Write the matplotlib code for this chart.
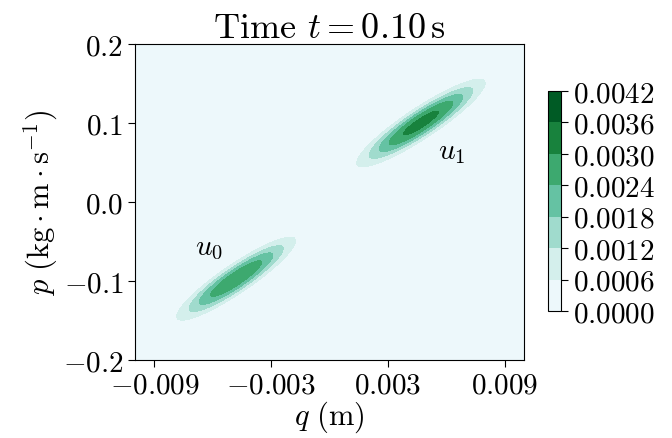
#!/usr/bin/env python3
import matplotlib

matplotlib.use("Agg")
import matplotlib.pyplot as plt
import numpy as np
from matplotlib.ticker import FuncFormatter

plt.rcParams["font.family"] = "serif"
plt.rcParams["font.serif"] = ["cmr10", "DejaVu Serif"]
plt.rcParams["mathtext.fontset"] = "cm"
plt.rcParams["axes.formatter.use_mathtext"] = True

# phase-space blobs: centre, spread, correlation, peak density
BLOB_NAMES = ["u_0", "u_1"]
BLOB_Q = [-0.0048, 0.0047]
BLOB_P = [-0.097, 0.100]
BLOB_SIG_Q = [0.0018, 0.0019]
BLOB_SIG_P = [0.031, 0.032]
BLOB_RHO = [0.91, 0.91]
BLOB_PEAK = [0.0029, 0.0032]
BLOB_SHAPE = 1.25  # >1 gives a flatter top than a plain gaussian

LABEL_Q = [-0.0062, 0.0063]
LABEL_P = [-0.058, 0.064]

LEVELS = [0.0, 0.0006, 0.0012, 0.0018, 0.0024, 0.0030, 0.0036, 0.0042]
X_TICKS = [-0.009, -0.003, 0.003, 0.009]
Y_TICKS = [-0.2, -0.1, 0.0, 0.1, 0.2]


def density(q, p):
    z = np.zeros_like(q)
    for q0, p0, sq, sp, rho, amp in zip(BLOB_Q, BLOB_P, BLOB_SIG_Q, BLOB_SIG_P, BLOB_RHO, BLOB_PEAK):
        a = (q - q0) / sq
        b = (p - p0) / sp
        r2 = (a * a - 2 * rho * a * b + b * b) / (1 - rho * rho)
        z += amp * np.exp(-((0.5 * r2) ** BLOB_SHAPE))
    return z


def main() -> None:
    q = np.linspace(-0.01, 0.01, 400)
    p = np.linspace(-0.2, 0.2, 400)
    Q, P = np.meshgrid(q, p)
    Z = density(Q, P)

    fig = plt.figure(figsize=(6.72, 4.39), dpi=100)
    ax = fig.add_axes([0.2009, 0.1777, 0.5789, 0.7198])
    cax = fig.add_axes([0.8155, 0.2893, 0.0193, 0.501])

    cs = ax.contourf(Q, P, Z, levels=LEVELS, cmap="BuGn", extend="neither")
    ax.set_xlim(-0.01, 0.01)
    ax.set_ylim(-0.2, 0.2)
    ax.set_xticks(X_TICKS)
    ax.set_yticks(Y_TICKS)
    ax.xaxis.set_major_formatter(FuncFormatter(lambda v, _: f"${v:.3f}$"))
    ax.yaxis.set_major_formatter(FuncFormatter(lambda v, _: f"${v:.1f}$"))
    ax.tick_params(labelsize=21, length=5)

    for name, lq, lp in zip(BLOB_NAMES, LABEL_Q, LABEL_P):
        ax.text(lq, lp, f"${name}$", fontsize=21, ha="center", va="center")

    ax.set_title(r"Time $t = 0.10\,\mathrm{s}$", fontsize=26, pad=5)
    ax.set_xlabel(r"$q\ (\mathrm{m})$", fontsize=22, labelpad=0)
    ax.set_ylabel(r"$p\ (\mathrm{kg}\cdot\mathrm{m}\cdot\mathrm{s}^{-1})$", fontsize=22, labelpad=2)

    cb = fig.colorbar(cs, cax=cax, ticks=LEVELS)
    cb.ax.yaxis.set_major_formatter(FuncFormatter(lambda v, _: f"${v:.4f}$"))
    cb.ax.tick_params(labelsize=21, length=5)

    fig.savefig("out.png", dpi=100)
    plt.close(fig)


if __name__ == "__main__":
    main()
